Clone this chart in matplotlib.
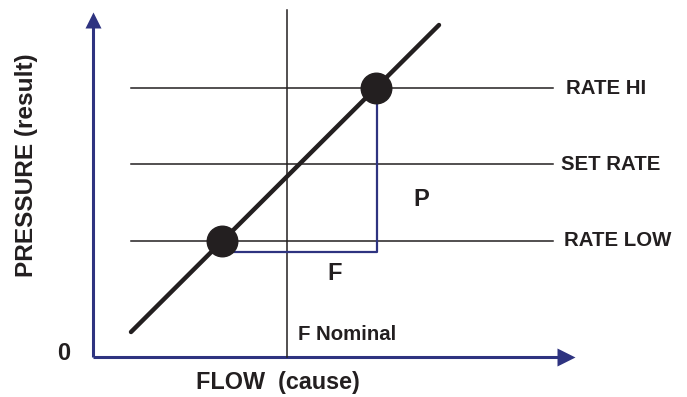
import matplotlib.pyplot as plt

# pressure vs flow diagram, units are arbitrary (origin at axis corner)
level_names = ['RATE HI', 'SET RATE', 'RATE LOW']
level_values = [269, 193, 116]
level_x = [38, 460]
label_x = [473, 468, 471]

f_nominal = 194

op_x = [38, 346]
op_y = [25, 332]

points_x = [129, 283]
points_y = [116, 269]

delta_x = [139, 284, 284]
delta_y = [105, 105, 255]

axis_color = '#2E3380'
ink = '#231F20'

plt.rcParams['font.family'] = ['Liberation Sans', 'DejaVu Sans']
plt.rcParams['font.weight'] = 'bold'

fig = plt.figure(figsize=(6.87, 3.97), dpi=100)
ax = fig.add_axes([0, 0, 1, 1])
ax.set_xlim(-93, 594)
ax.set_ylim(-40, 357)
ax.axis('off')

# axes with arrow heads
ax.plot([0, 0], [0, 332], color=axis_color, lw=2.2, solid_capstyle='butt')
ax.plot([0, 466], [0, 0], color=axis_color, lw=2.2, solid_capstyle='butt')
ax.plot([0], [337], marker='^', markersize=12, color=axis_color, mec='none')
ax.plot([473], [0], marker='>', markersize=13, color=axis_color, mec='none')

# rate levels
for name, val, lx in zip(level_names, level_values, label_x):
    ax.plot(level_x, [val, val], color=ink, lw=1.1)
    ax.text(lx, val, name, fontsize=14.7, ha='left', va='center', color=ink)

# nominal flow line
ax.plot([f_nominal, f_nominal], [0, 347], color=ink, lw=1.1)
ax.text(205, 22, 'F Nominal', fontsize=14.7, ha='left', va='center', color=ink)

# delta triangle
ax.plot(delta_x, delta_y, color=axis_color, lw=1.6)

# operating line and points
ax.plot(op_x, op_y, color=ink, lw=3.2, solid_capstyle='round')
ax.plot(points_x, points_y, 'o', markersize=22, color=ink)

ax.text(328, 157, 'P', fontsize=17, ha='center', va='center', color=ink)
ax.text(242, 83, 'F', fontsize=17, ha='center', va='center', color=ink)
ax.text(-29, 3, '0', fontsize=17, ha='center', va='center', color=ink)

ax.text(185, -26, 'FLOW  (cause)', fontsize=16.8, ha='center', va='center', color=ink)
ax.text(-66, 192, 'PRESSURE (result)', fontsize=17.6, rotation=90,
        ha='center', va='center', color=ink)

fig.savefig('out.png', dpi=100)
